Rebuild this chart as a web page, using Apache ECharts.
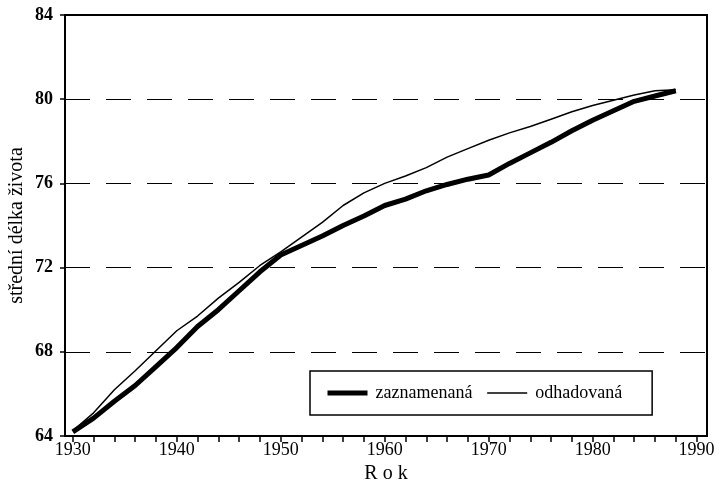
<!DOCTYPE html>
<html>
<head>
<meta charset="utf-8">
<script src="https://cdn.jsdelivr.net/npm/echarts@6/dist/echarts.min.js"></script>
<style>
html,body{margin:0;padding:0;background:#fff;}
#c{width:719px;height:485px;}
</style>
</head>
<body>
<div id="c"></div>
<script>
var years = [1930,1932,1934,1936,1938,1940,1942,1944,1946,1948,1950,1952,1954,1956,1958,1960,1962,1964,1966,1968,1970,1972,1974,1976,1978,1980,1982,1984,1986,1988];
var recorded = [64.2,64.85,65.65,66.4,67.3,68.2,69.2,70.0,70.9,71.8,72.6,73.05,73.5,74.0,74.45,74.95,75.25,75.65,75.95,76.2,76.4,76.95,77.45,77.95,78.5,79.0,79.45,79.9,80.15,80.4];
var estimated = [64.25,65.1,66.2,67.1,68.05,69.0,69.7,70.55,71.3,72.1,72.75,73.45,74.15,74.95,75.55,76.0,76.35,76.75,77.25,77.65,78.05,78.4,78.7,79.05,79.4,79.7,79.95,80.2,80.4,80.45];
var xTicks = [1930,1932,1934,1936,1938,1940,1942,1944,1946,1948,1950,1952,1954,1956,1958,1960,1962,1964,1966,1968,1970,1972,1974,1976,1978,1980,1982,1984,1986,1988,1990];
var xLabels = [1930,1940,1950,1960,1970,1980,1990];
var seriesNames = ['zaznamenaná','odhadovaná'];
var yTitle = 'střední délka života';
var xTitle = 'R o k';

function pairs(xs, ys){ return xs.map(function(x,i){ return [x, ys[i]]; }); }

var font = '"Liberation Serif", "Times New Roman", serif';
var chart = echarts.init(document.getElementById('c'), null, {renderer:'canvas'});
chart.setOption({
  animation: false,
  backgroundColor: '#fff',
  grid: {left: 65, right: 12, top: 15, bottom: 49, show: true, borderColor: '#000', borderWidth: 2,
         backgroundColor: 'transparent', outerBoundsMode: 'none', containLabel: false},
  legend: {
    left: 310, top: 371,
    data: [
      {name: seriesNames[0], itemStyle: {opacity: 0}, lineStyle: {width: 5, color: '#000'}},
      {name: seriesNames[1], itemStyle: {opacity: 0}, lineStyle: {width: 1.5, color: '#000'}}
    ],
    borderColor: '#000', borderWidth: 1.5, borderRadius: 0,
    backgroundColor: '#fff',
    padding: [13, 30, 13, 15],
    itemWidth: 40, itemHeight: 12, itemGap: 14,
    textStyle: {fontFamily: font, fontSize: 18, color: '#000', padding: [0, 0, 0, 3]}
  },
  xAxis: {
    type: 'value', min: 1929.25, max: 1991,
    name: xTitle, nameLocation: 'middle', nameGap: 28, nameMoveOverlap: false,
    nameTextStyle: {fontFamily: font, fontSize: 20, color: '#000'},
    axisLine: {show: true, lineStyle: {color: '#000', width: 2}},
    axisTick: {show: true, customValues: xTicks, length: 6, lineStyle: {color: '#000', width: 1.5}},
    axisLabel: {customValues: xLabels, formatter: function(v){ return String(v); },
                fontFamily: font, fontSize: 18, color: '#000', margin: 5},
    splitLine: {show: false}
  },
  yAxis: {
    type: 'value', min: 64, max: 84, interval: 4,
    name: yTitle, nameLocation: 'middle', nameGap: 38, nameMoveOverlap: false,
    nameTextStyle: {fontFamily: font, fontSize: 20, color: '#000'},
    axisLine: {show: true, lineStyle: {color: '#000', width: 2}},
    axisTick: {show: true, length: 5, lineStyle: {color: '#000', width: 1.5}},
    axisLabel: {fontFamily: font, fontSize: 18, fontWeight: 'bold', color: '#000', margin: 12},
    splitLine: {show: true, lineStyle: {color: '#000', width: 1, type: [25, 16]}}
  },
  series: [
    {name: seriesNames[0], type: 'line', data: pairs(years, recorded), symbol: 'none',
     lineStyle: {color: '#000', width: 5}, itemStyle: {color: '#000'}},
    {name: seriesNames[1], type: 'line', data: pairs(years, estimated), symbol: 'none',
     lineStyle: {color: '#000', width: 1.5}, itemStyle: {color: '#000'}}
  ]
});
</script>
</body>
</html>
